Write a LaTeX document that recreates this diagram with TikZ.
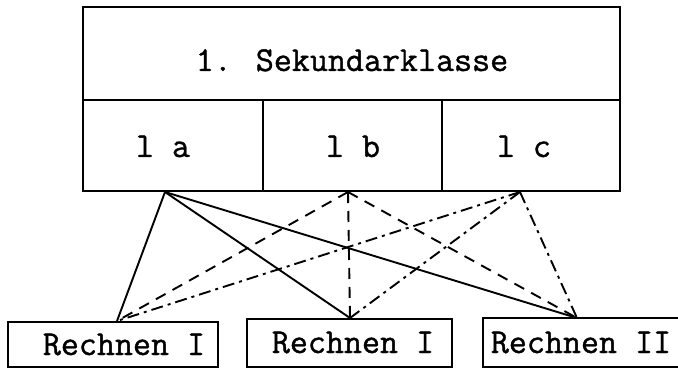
\documentclass[tikz,border=0pt]{standalone}
\usepackage{fontspec}
\newfontfamily\typew[FakeBold=1.1]{Latin Modern Mono}
\usetikzlibrary{calc}
\begin{document}
\begin{tikzpicture}[x=1pt,y=-1pt,
  box/.style={draw,line width=2pt,inner sep=0pt,rectangle},
  txt/.style={inner sep=0pt,anchor=base,font=\fontsize{35}{38}\selectfont\typew},
  solidlink/.style={line width=1.9pt},
  dashlink/.style={line width=1.9pt,dash pattern=on 11pt off 8pt},
  dotlink/.style={line width=1.9pt,dash pattern=on 12pt off 5pt on 3pt off 5pt}]
\useasboundingbox (0,0) rectangle (678,369);
% upper table
\node[box,minimum width=537pt,minimum height=93pt] (top) at (351.5,53.5) {};
\node[box,minimum width=180pt,minimum height=91pt] (ca) at (173,145.5) {};
\node[box,minimum width=179pt,minimum height=91pt] (cb) at (352.5,145.5) {};
\node[box,minimum width=178pt,minimum height=91pt] (cc) at (531,145.5) {};
\node[txt] (toplbl) at (352,71) {1. Sekundarklasse};
\node[txt] (lal) at (163,157) {l a};
\node[txt] (lbl) at (353,157) {l b};
\node[txt] (lcl) at (524,157) {l c};
% lower boxes
\node[box,minimum width=210pt,minimum height=45pt] (r1) at (113,344.5) {};
\node[box,minimum width=205pt,minimum height=48pt] (r2) at (349.5,343) {};
\node[box,minimum width=225pt,minimum height=49pt] (r3) at (595.5,342.5) {};
\node[txt] (r1l) at (124,355) {Rechnen I};
\node[txt] (r2l) at (353,353) {Rechnen I};
\node[txt] (r3l) at (581,353) {Rechnen II};
% connection points
\coordinate (pa) at ($(ca.south)+(-8,0)$);
\coordinate (pb) at ($(cb.south)+(-4.5,0)$);
\coordinate (pc) at ($(cc.south)+(-11,0)$);
\coordinate (q1) at ($(r1.north)+(4,0)$);
\coordinate (q2) at ($(r2.north)+(0.5,0)$);
\coordinate (q3) at (577,318);
% connectors
\draw[solidlink] (pa) -- (q1);
\draw[solidlink] (pa) -- (q2);
\draw[solidlink] (pa) -- (q3);
\draw[dashlink] (pb) -- (q1);
\draw[dashlink] (pb) -- (q2);
\draw[dashlink] (pb) -- (q3);
\draw[dotlink] (pc) -- (q1);
\draw[dotlink] (pc) -- (q2);
\draw[dotlink] (pc) -- (q3);
\end{tikzpicture}
\end{document}
